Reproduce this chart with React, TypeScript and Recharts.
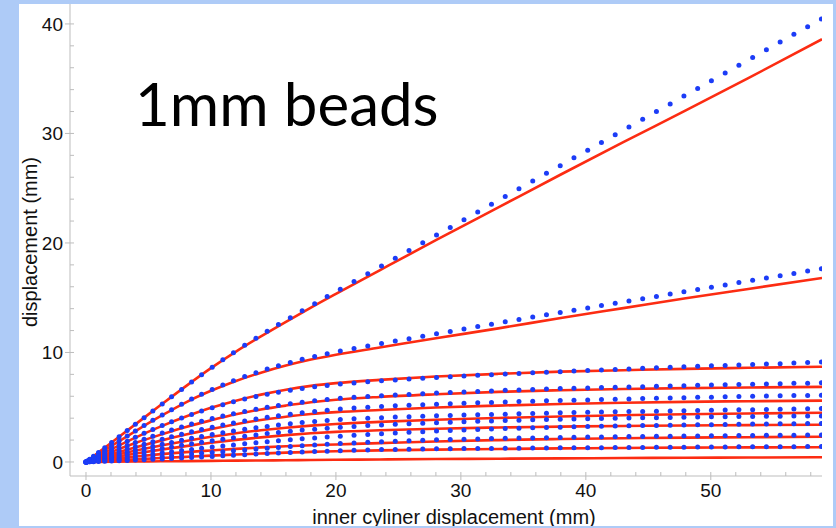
import React from "react";
import { ComposedChart, Line, Scatter, XAxis, YAxis } from "recharts";

// inner cylinder displacement where the measured points sit
const blueX = [
  0, 0.1, 0.3, 0.6, 1.0, 1.5, 2.05, 2.65, 3.3, 3.95, 4.65, 5.35, 6.1, 6.85, 7.65, 8.45, 9.25, 10.1, 10.95, 11.8,
  12.7, 13.6, 14.5, 15.4, 16.35, 17.3, 18.3, 19.3, 20.35, 21.45, 22.55, 23.65, 24.75, 25.85, 26.95, 28.05, 29.15,
  30.25, 31.35, 32.45, 33.55, 34.65, 35.75, 36.85, 37.95, 39.05, 40.15, 41.25, 42.35, 43.45, 44.55, 45.65, 46.75,
  47.85, 48.95, 50.05, 51.15, 52.25, 53.35, 54.45, 55.55, 56.65, 57.75, 58.85
];

// measured displacement (blue dots), one list per layer
const blue1 = [
  0, 0.09, 0.26, 0.52, 0.87, 1.3, 1.78, 2.3, 2.87, 3.44, 4.04, 4.65, 5.3, 5.95, 6.63, 7.3, 7.97, 8.66, 9.33, 9.98,
  10.65, 11.3, 11.93, 12.55, 13.18, 13.8, 14.45, 15.1, 15.78, 16.49, 17.19, 17.9, 18.6, 19.31, 20.01, 20.72, 21.42,
  22.13, 22.83, 23.54, 24.24, 24.95, 25.65, 26.36, 27.06, 27.77, 28.47, 29.18, 29.88, 30.59, 31.29, 32.0, 32.7,
  33.41, 34.11, 34.82, 35.52, 36.23, 36.93, 37.64, 38.34, 39.05, 39.75, 40.46
];
const blue2 = [
  0, 0.07, 0.22, 0.43, 0.72, 1.08, 1.48, 1.91, 2.37, 2.83, 3.32, 3.8, 4.3, 4.78, 5.27, 5.74, 6.18, 6.62, 7.03, 7.42,
  7.8, 8.15, 8.48, 8.79, 9.09, 9.37, 9.64, 9.89, 10.13, 10.37, 10.6, 10.82, 11.04, 11.26, 11.48, 11.7, 11.92, 12.14,
  12.36, 12.58, 12.8, 13.02, 13.23, 13.44, 13.65, 13.86, 14.07, 14.28, 14.49, 14.7, 14.91, 15.12, 15.33, 15.54,
  15.75, 15.96, 16.17, 16.38, 16.59, 16.8, 17.01, 17.22, 17.43, 17.64
];
const blue3 = [
  0, 0.06, 0.18, 0.35, 0.59, 0.88, 1.2, 1.54, 1.9, 2.25, 2.62, 2.97, 3.33, 3.67, 4.02, 4.34, 4.65, 4.95, 5.23, 5.49,
  5.74, 5.97, 6.18, 6.37, 6.55, 6.71, 6.86, 6.99, 7.11, 7.22, 7.32, 7.41, 7.49, 7.57, 7.64, 7.71, 7.78, 7.85, 7.91,
  7.97, 8.03, 8.09, 8.15, 8.2, 8.25, 8.3, 8.35, 8.4, 8.45, 8.5, 8.55, 8.6, 8.65, 8.7, 8.74, 8.78, 8.82, 8.86, 8.9,
  8.94, 8.98, 9.03, 9.08, 9.13
];
const blue4 = [
  0, 0.05, 0.14, 0.28, 0.47, 0.7, 0.95, 1.22, 1.5, 1.78, 2.07, 2.35, 2.64, 2.92, 3.2, 3.46, 3.71, 3.96, 4.19, 4.41,
  4.62, 4.82, 5.0, 5.16, 5.31, 5.45, 5.58, 5.7, 5.81, 5.9, 5.98, 6.05, 6.11, 6.17, 6.23, 6.29, 6.34, 6.39, 6.44,
  6.49, 6.54, 6.58, 6.62, 6.66, 6.7, 6.73, 6.76, 6.79, 6.82, 6.85, 6.88, 6.91, 6.94, 6.97, 7.0, 7.03, 7.05, 7.08,
  7.1, 7.13, 7.15, 7.18, 7.2, 7.23
];
const blue5 = [
  0, 0.04, 0.11, 0.22, 0.37, 0.55, 0.75, 0.96, 1.18, 1.4, 1.63, 1.85, 2.08, 2.31, 2.54, 2.76, 2.97, 3.18, 3.38, 3.57,
  3.75, 3.92, 4.08, 4.23, 4.37, 4.5, 4.62, 4.73, 4.83, 4.92, 5.0, 5.07, 5.13, 5.18, 5.23, 5.28, 5.32, 5.36, 5.4,
  5.44, 5.48, 5.52, 5.55, 5.58, 5.61, 5.64, 5.67, 5.7, 5.73, 5.76, 5.79, 5.82, 5.85, 5.87, 5.9, 5.92, 5.95, 5.97,
  6.0, 6.02, 6.04, 6.06, 6.08, 6.1
];
const blue6 = [
  0, 0.03, 0.08, 0.17, 0.28, 0.42, 0.57, 0.73, 0.9, 1.07, 1.25, 1.43, 1.61, 1.79, 1.98, 2.16, 2.33, 2.5, 2.67, 2.83,
  2.98, 3.12, 3.25, 3.37, 3.49, 3.6, 3.7, 3.79, 3.87, 3.94, 4.0, 4.05, 4.1, 4.14, 4.18, 4.22, 4.25, 4.28, 4.31,
  4.34, 4.37, 4.4, 4.43, 4.46, 4.49, 4.51, 4.53, 4.56, 4.58, 4.6, 4.62, 4.64, 4.66, 4.68, 4.7, 4.72, 4.74, 4.76,
  4.78, 4.8, 4.82, 4.84, 4.86, 4.88
];
const blue7 = [
  0, 0.02, 0.06, 0.13, 0.21, 0.31, 0.43, 0.55, 0.68, 0.81, 0.95, 1.09, 1.23, 1.37, 1.52, 1.66, 1.8, 1.94, 2.08,
  2.21, 2.34, 2.47, 2.59, 2.7, 2.81, 2.91, 3.0, 3.09, 3.17, 3.25, 3.32, 3.38, 3.44, 3.49, 3.54, 3.59, 3.63, 3.67,
  3.71, 3.75, 3.79, 3.82, 3.85, 3.88, 3.91, 3.93, 3.95, 3.97, 3.99, 4.01, 4.03, 4.05, 4.07, 4.09, 4.1, 4.12, 4.13,
  4.15, 4.16, 4.17, 4.18, 4.19, 4.2, 4.21
];
const blue8 = [
  0, 0.01, 0.04, 0.08, 0.14, 0.21, 0.29, 0.37, 0.46, 0.55, 0.65, 0.74, 0.84, 0.94, 1.05, 1.15, 1.25, 1.36, 1.46,
  1.56, 1.66, 1.76, 1.85, 1.94, 2.03, 2.12, 2.2, 2.28, 2.36, 2.44, 2.51, 2.58, 2.65, 2.71, 2.77, 2.82, 2.87, 2.92,
  2.97, 3.01, 3.05, 3.09, 3.12, 3.15, 3.18, 3.21, 3.24, 3.26, 3.28, 3.3, 3.32, 3.34, 3.36, 3.38, 3.4, 3.41, 3.43,
  3.44, 3.46, 3.47, 3.48, 3.5, 3.51, 3.52
];
const blue9 = [
  0, 0.01, 0.02, 0.05, 0.08, 0.12, 0.17, 0.22, 0.27, 0.33, 0.39, 0.45, 0.51, 0.58, 0.65, 0.72, 0.79, 0.87, 0.94,
  1.02, 1.1, 1.18, 1.26, 1.33, 1.41, 1.48, 1.55, 1.62, 1.68, 1.74, 1.8, 1.85, 1.9, 1.94, 1.98, 2.02, 2.05, 2.08,
  2.11, 2.14, 2.16, 2.18, 2.2, 2.22, 2.24, 2.26, 2.28, 2.29, 2.31, 2.32, 2.33, 2.35, 2.36, 2.37, 2.38, 2.39, 2.4,
  2.41, 2.42, 2.43, 2.44, 2.45, 2.46, 2.47
];
const blue10 = [
  0, 0, 0.01, 0.02, 0.04, 0.06, 0.08, 0.11, 0.14, 0.17, 0.2, 0.24, 0.28, 0.32, 0.36, 0.41, 0.46, 0.51, 0.56, 0.61,
  0.67, 0.72, 0.77, 0.82, 0.87, 0.91, 0.95, 0.99, 1.03, 1.07, 1.1, 1.13, 1.15, 1.17, 1.19, 1.2, 1.21, 1.22, 1.23,
  1.24, 1.25, 1.26, 1.27, 1.28, 1.29, 1.3, 1.3, 1.31, 1.32, 1.33, 1.33, 1.34, 1.35, 1.35, 1.36, 1.37, 1.37, 1.38,
  1.39, 1.39, 1.4, 1.4, 1.41, 1.42
];

// model curves (red lines)
const redX = [0, 2, 4, 6, 8, 10, 12, 14, 16, 18, 20, 23.5, 28, 33, 38, 43, 48, 53, 58.9];
const red1 = [0, 1.74, 3.48, 5.22, 6.93, 8.57, 10.08, 11.47, 12.8, 14.1, 15.35, 17.5, 20.25, 23.25, 26.25, 29.2, 32.1, 35.05, 38.6];
const red2 = [0, 1.44, 2.85, 4.2, 5.45, 6.5, 7.4, 8.15, 8.8, 9.35, 9.8, 10.45, 11.3, 12.2, 13.15, 14.05, 14.95, 15.8, 16.8];
const red3 = [0, 1.15, 2.25, 3.25, 4.15, 4.95, 5.6, 6.15, 6.6, 6.95, 7.2, 7.5, 7.8, 8.05, 8.25, 8.38, 8.5, 8.6, 8.7];
const red4 = [0, 0.9, 1.75, 2.5, 3.2, 3.8, 4.35, 4.8, 5.15, 5.45, 5.68, 5.94, 6.18, 6.4, 6.55, 6.66, 6.74, 6.8, 6.86];
const red5 = [0, 0.7, 1.35, 1.95, 2.5, 3.0, 3.45, 3.83, 4.13, 4.38, 4.55, 4.75, 4.97, 5.15, 5.3, 5.41, 5.49, 5.55, 5.6];
const red6 = [0, 0.55, 1.05, 1.5, 1.92, 2.3, 2.63, 2.9, 3.13, 3.32, 3.47, 3.66, 3.85, 4.02, 4.16, 4.27, 4.36, 4.43, 4.5];
const red7 = [0, 0.4, 0.78, 1.13, 1.45, 1.75, 2.02, 2.25, 2.45, 2.62, 2.75, 2.9, 3.04, 3.15, 3.23, 3.29, 3.33, 3.37, 3.4];
const red8 = [0, 0.25, 0.5, 0.72, 0.9, 1.05, 1.2, 1.33, 1.44, 1.53, 1.6, 1.72, 1.87, 2.0, 2.1, 2.17, 2.22, 2.26, 2.3];
const red9 = [0, 0.12, 0.24, 0.36, 0.47, 0.58, 0.68, 0.77, 0.85, 0.92, 0.98, 1.06, 1.13, 1.19, 1.24, 1.28, 1.31, 1.33, 1.35];
const red10 = [0, 0.02, 0.04, 0.06, 0.08, 0.1, 0.12, 0.14, 0.16, 0.18, 0.2, 0.23, 0.27, 0.3, 0.33, 0.36, 0.39, 0.41, 0.43];

const xTicks = [0, 2, 4, 6, 8, 10, 12, 14, 16, 18, 20, 22, 24, 26, 28, 30, 32, 34, 36, 38, 40, 42, 44, 46, 48, 50, 52, 54, 56, 58];
const yTicks = [0, 2, 4, 6, 8, 10, 12, 14, 16, 18, 20, 22, 24, 26, 28, 30, 32, 34, 36, 38, 40];

const blueSeries = [blue1, blue2, blue3, blue4, blue5, blue6, blue7, blue8, blue9, blue10];
const redSeries = [red1, red2, red3, red4, red5, red6, red7, red8, red9, red10];

const BLUE = "#1c3cf7";
const RED = "#fc2c12";
const AXIS = "#bdbdbd";
const FONT = '"Liberation Sans", Arial, Helvetica, sans-serif';

const toPoints = (xs: number[], ys: number[]) => ys.map((y, i) => ({ x: xs[i], y }));

function XTick(props: any) {
  const { x, y, payload } = props;
  const major = payload.value % 10 === 0;
  return (
    <g>
      <line x1={x} x2={x} y1={y - 4} y2={major ? y + 4 : y} stroke={AXIS} />
      {major && (
        <text x={x} y={y + 21} textAnchor="middle" fontSize={19} fontFamily={FONT} fill="#111">
          {payload.value}
        </text>
      )}
    </g>
  );
}

function YTick(props: any) {
  const { x, y, payload } = props;
  const major = payload.value % 10 === 0;
  return (
    <g>
      <line x1={major ? x - 5 : x} x2={x + 4} y1={y} y2={y} stroke={AXIS} />
      {major && (
        <text x={x - 7} y={y + 7} textAnchor="end" fontSize={19} fontFamily={FONT} fill="#111">
          {payload.value}
        </text>
      )}
    </g>
  );
}

function Dot(props: any) {
  return <circle cx={props.cx} cy={props.cy} r={2.5} fill={BLUE} />;
}

export default function App() {
  return (
    <div style={{ position: "absolute", left: 0, top: 0, width: 836, height: 528, background: "#aecbf7", overflow: "hidden" }}>
      <div style={{ position: "absolute", left: 19, top: 4, width: 814, height: 522, background: "#ffffff" }} />
      <div style={{ position: "absolute", left: 0, top: 0 }}>
        <ComposedChart width={836} height={528} margin={{ top: 4, right: 14, bottom: 0, left: 0 }}>
          <XAxis
            type="number"
            dataKey="x"
            domain={[-1.28, 58.9]}
            allowDataOverflow
            ticks={xTicks}
            interval={0}
            height={52}
            tickSize={0}
            tickMargin={0}
            tickLine={false}
            axisLine={{ stroke: AXIS }}
            tick={<XTick />}
          />
          <YAxis
            type="number"
            dataKey="y"
            domain={[-1.28, 41.82]}
            allowDataOverflow
            ticks={yTicks}
            interval={0}
            width={70}
            tickSize={0}
            tickMargin={0}
            tickLine={false}
            axisLine={{ stroke: AXIS }}
            tick={<YTick />}
          />
          {redSeries.map((s, i) => (
            <Line
              key={"r" + i}
              data={toPoints(redX, s)}
              dataKey="y"
              type="monotone"
              stroke={RED}
              strokeWidth={2.6}
              dot={false}
              isAnimationActive={false}
            />
          ))}
          {blueSeries.map((s, i) => (
            <Scatter
              key={"b" + i}
              data={toPoints(blueX, s)}
              dataKey="y"
              fill={BLUE}
              shape={<Dot />}
              isAnimationActive={false}
            />
          ))}
        </ComposedChart>
      </div>
      <svg width={836} height={528} style={{ position: "absolute", left: 0, top: 0, pointerEvents: "none" }}>
        <text x={135} y={126} fontFamily="Lato, 'Open Sans', sans-serif" fontSize={60} fill="#000">
          1mm beads
        </text>
        <text
          transform="translate(37,242) rotate(-90)"
          textAnchor="middle"
          fontFamily={FONT}
          fontSize={20}
          fill="#111"
        >
          displacement (mm)
        </text>
        <text x={454} y={524} textAnchor="middle" fontFamily={FONT} fontSize={20} fill="#111">
          inner cyliner displacement (mm)
        </text>
      </svg>
      <div style={{ position: "absolute", left: 0, top: 526, width: 836, height: 2, background: "#aecbf7" }} />
      <div style={{ position: "absolute", left: 833, top: 0, width: 3, height: 528, background: "#aecbf7" }} />
    </div>
  );
}
